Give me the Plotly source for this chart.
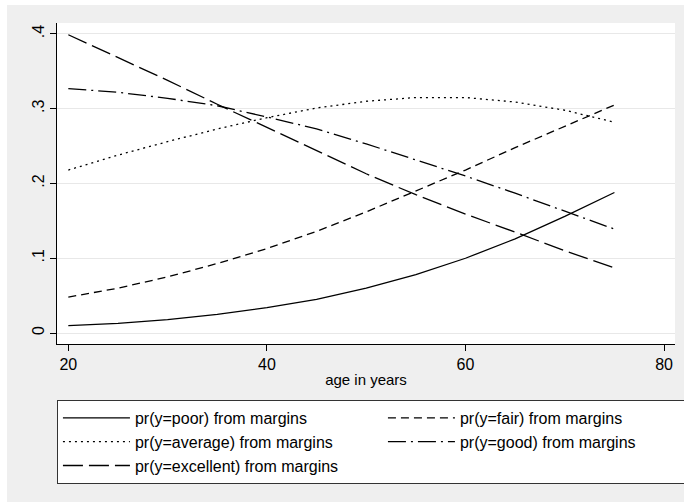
import plotly.graph_objects as go

age = [20, 25, 30, 35, 40, 45, 50, 55, 60, 65, 70, 75]
pr_poor = [0.010, 0.013, 0.018, 0.025, 0.034, 0.045, 0.060, 0.078, 0.100, 0.126, 0.156, 0.188]
pr_fair = [0.048, 0.060, 0.075, 0.093, 0.113, 0.136, 0.162, 0.190, 0.218, 0.248, 0.277, 0.305]
pr_average = [0.218, 0.238, 0.256, 0.273, 0.288, 0.301, 0.310, 0.315, 0.315, 0.309, 0.298, 0.282]
pr_good = [0.327, 0.322, 0.314, 0.304, 0.289, 0.273, 0.253, 0.232, 0.210, 0.187, 0.163, 0.139]
pr_excellent = [0.399, 0.369, 0.338, 0.306, 0.275, 0.244, 0.213, 0.185, 0.159, 0.135, 0.110, 0.087]

series_names = [
    "pr(y=poor) from margins",
    "pr(y=fair) from margins",
    "pr(y=average) from margins",
    "pr(y=good) from margins",
    "pr(y=excellent) from margins",
]
x_ticks = [20, 40, 60, 80]
y_ticks = [0, 0.1, 0.2, 0.3, 0.4]
y_tick_labels = ["0", ".1", ".2", ".3", ".4"]

series = [pr_poor, pr_fair, pr_average, pr_good, pr_excellent]
dashes = ["solid", "8px,5px", "2px,4px", "18px,5px,2px,5px", "20px,6px"]

FONT = "Liberation Sans, Arial, sans-serif"
W, H = 684, 502
L, R, T, B = 57, 9, 23, 158
pw, ph = W - L - R, H - T - B

def px2x(px):
    return (px - L) / pw

def py2y(py):
    return (H - B - py) / ph

fig = go.Figure()
for name, vals, dash in zip(series_names, series, dashes):
    fig.add_trace(go.Scatter(
        x=age, y=vals, mode="lines", name=name,
        line=dict(color="black", width=1.3, dash=dash),
    ))

fig.update_layout(
    width=W, height=H,
    margin=dict(l=L, r=R, t=T, b=B, pad=0, autoexpand=False),
    paper_bgcolor="#EFEFEF",
    plot_bgcolor="white",
    font=dict(family=FONT, color="black", size=15),
    showlegend=True,
    legend=dict(
        orientation="h",
        x=-0.0001, y=py2y(400), xanchor="left", yanchor="top",
        bgcolor="white", bordercolor="#333333", borderwidth=1,
        font=dict(size=16, family=FONT),
        entrywidth=243, entrywidthmode="pixels",
        traceorder="normal",
        itemwidth=67,
    ),
    xaxis=dict(
        range=[18.86, 81.1], tickvals=x_ticks,
        ticks="outside", ticklen=6, tickcolor="black", tickwidth=1,
        showline=True, linecolor="black", linewidth=1,
        showgrid=False, zeroline=False,
        tickfont=dict(size=16),
        title=dict(text="age in years", font=dict(size=15), standoff=2),
    ),
    yaxis=dict(
        range=[-0.0147, 0.4147], tickvals=y_ticks, ticktext=y_tick_labels,
        ticks="outside", ticklen=6, tickcolor="black", tickwidth=1,
        showline=True, linecolor="black", linewidth=1,
        showgrid=True, gridcolor="#E8E8E8", gridwidth=1,
        zeroline=False, tickangle=-90,
        tickfont=dict(size=16),
    ),
    shapes=[
        dict(type="rect", xref="paper", yref="paper", layer="below",
             x0=px2x(0), x1=px2x(W), y0=py2y(5), y1=py2y(0),
             fillcolor="white", line=dict(width=0)),
        dict(type="rect", xref="paper", yref="paper", layer="below",
             x0=px2x(0), x1=px2x(7), y0=py2y(H), y1=py2y(0),
             fillcolor="white", line=dict(width=0)),
    ],
)

fig.write_html(
    "out.html",
    config={"displayModeBar": False},
    post_script="document.body.style.margin='0px';document.body.style.overflow='hidden';",
)
